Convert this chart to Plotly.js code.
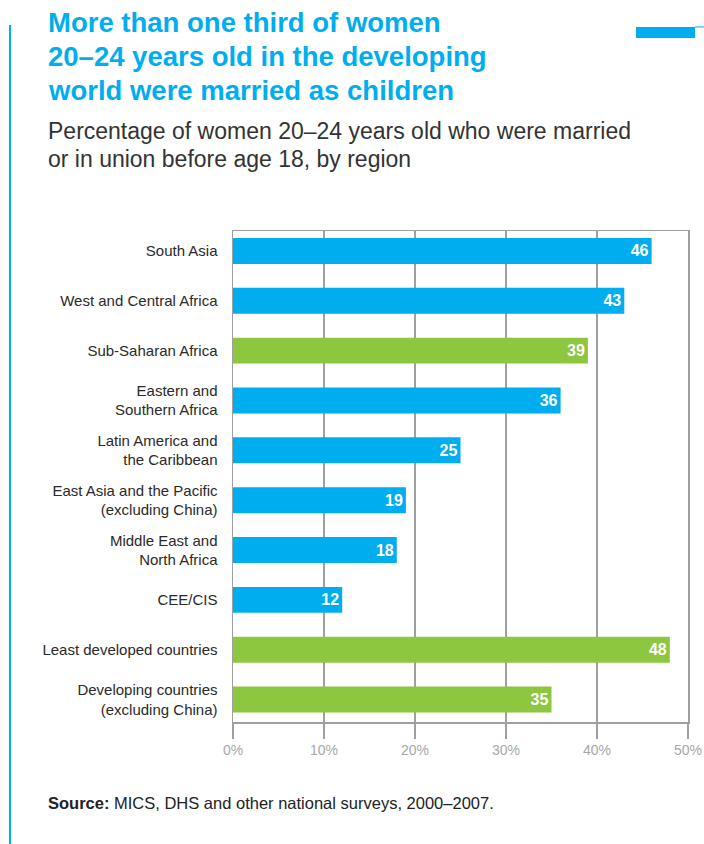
<!DOCTYPE html>
<html>
<head>
<meta charset="utf-8">
<script src="https://cdn.plot.ly/plotly-3.0.1.min.js"></script>
<style>html,body{margin:0;padding:0;background:#fff;}#chart{width:704px;height:844px;}</style>
</head>
<body>
<div id="chart"></div>
<script>
const categories = [
  "South Asia",
  "West and Central Africa",
  "Sub-Saharan Africa",
  "Eastern and<br>Southern Africa",
  "Latin America and<br>the Caribbean",
  "East Asia and the Pacific<br>(excluding China)",
  "Middle East and<br>North Africa",
  "CEE/CIS",
  "Least developed countries",
  "Developing countries<br>(excluding China)"
];
const values = [46, 43, 39, 36, 25, 19, 18, 12, 48, 35];
const groups = ["region","region","aggregate","region","region","region","region","region","aggregate","aggregate"];
const xTicks = [0, 10, 20, 30, 40, 50];
const xTickLabels = ["0%", "10%", "20%", "30%", "40%", "50%"];
const titleLines = ["More than one third of women", "20–24 years old in the developing", "world were married as children"];
const subtitleLines = ["Percentage of women 20–24 years old who were married", "or in union before age 18, by region"];
const sourceText = "<b>Source:</b> MICS, DHS and other national surveys, 2000–2007.";

const colorMap = {region: "#00AEEF", aggregate: "#8DC63F"};

const W = 704, H = 844;
const L = 233, R = 688, T = 231, B = 722;
const px = x => (x - L) / (R - L);
const py = y => (B - y) / (B - T);
const FONT = "Liberation Sans, Arial, sans-serif";

const trace = {
  type: "bar",
  orientation: "h",
  y: categories,
  x: values,
  text: values.map(String),
  textposition: "inside",
  insidetextanchor: "end",
  textfont: {family: FONT, size: 16, color: "#fff", weight: "bold"},
  marker: {color: groups.map(g => colorMap[g])},
  hoverinfo: "none",
  cliponaxis: false
};

const annotations = [];
titleLines.forEach((t, i) => {
  annotations.push({
    xref: "paper", yref: "paper", x: px(46), y: py(23 + i * 34),
    xanchor: "left", yanchor: "middle", showarrow: false,
    text: "<b>" + t + "</b>",
    font: {family: FONT, size: 27.5, color: "#00AEEF"}
  });
});
subtitleLines.forEach((t, i) => {
  annotations.push({
    xref: "paper", yref: "paper", x: px(46), y: py(131 + i * 28),
    xanchor: "left", yanchor: "middle", showarrow: false,
    text: t,
    font: {family: FONT, size: 23, color: "#333"}
  });
});
annotations.push({
  xref: "paper", yref: "paper", x: px(46), y: py(803),
  xanchor: "left", yanchor: "middle", showarrow: false,
  text: sourceText,
  font: {family: FONT, size: 16.5, color: "#222"}
});

const layout = {
  width: W, height: H,
  margin: {l: L, r: W - R, t: T, b: H - B, pad: 0},
  paper_bgcolor: "#fff", plot_bgcolor: "#fff",
  showlegend: false,
  bargap: 0.48,
  xaxis: {
    range: [0, 50], tickvals: xTicks, ticktext: xTickLabels,
    showgrid: true, gridcolor: "#a0a0a0", gridwidth: 1.5,
    zeroline: false, showline: true, mirror: true, linecolor: "#a0a0a0", linewidth: 1.5,
    ticks: "outside", ticklen: 15, tickcolor: "#a0a0a0", tickwidth: 1.5,
    tickfont: {family: FONT, size: 14, color: "#a8a8a8"},
    fixedrange: true
  },
  yaxis: {
    type: "category", range: [9.45, -0.4],
    showgrid: false, zeroline: false,
    showline: true, mirror: true, linecolor: "#a0a0a0", linewidth: 1.5,
    ticks: "", ticklabelstandoff: 11,
    tickfont: {family: FONT, size: 15, color: "#2a2a2a"},
    fixedrange: true
  },
  annotations: annotations,
  shapes: [
    {type: "line", xref: "paper", yref: "paper", x0: px(10), x1: px(10), y0: py(25), y1: py(844),
     line: {color: "#00AEEF", width: 2}},
    {type: "rect", xref: "paper", yref: "paper", x0: px(636), x1: px(695), y0: py(27), y1: py(38),
     fillcolor: "#00AEEF", line: {width: 0}},
    {type: "line", xref: "paper", yref: "paper", x0: px(695), x1: px(704), y0: py(27), y1: py(27),
     line: {color: "#00AEEF", width: 1}}
  ]
};

Plotly.newPlot("chart", [trace], layout, {displayModeBar: false, staticPlot: true});
</script>
</body>
</html>
